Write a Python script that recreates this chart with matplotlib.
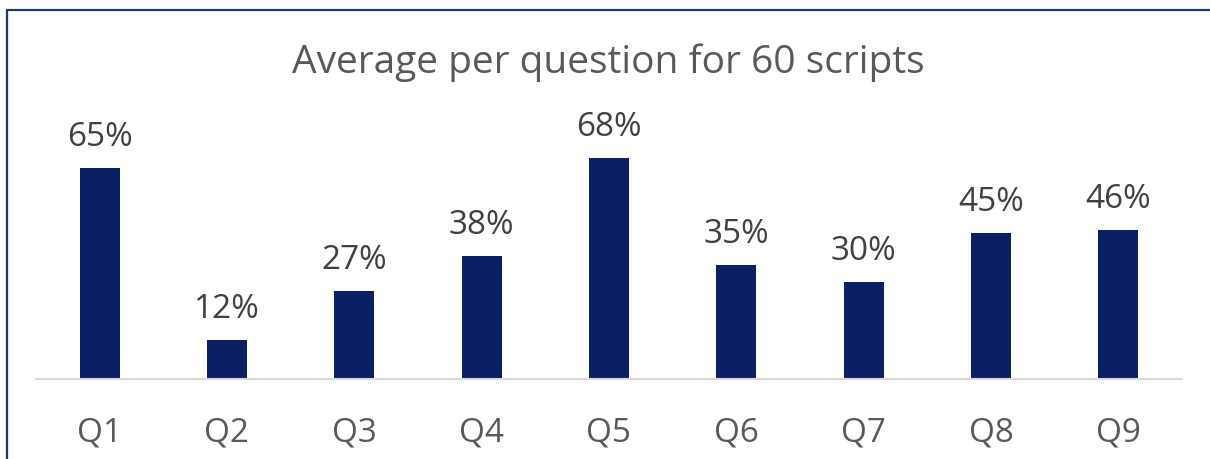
import matplotlib.pyplot as plt
from matplotlib.patches import Rectangle

preguntas = ['Q1', 'Q2', 'Q3', 'Q4', 'Q5', 'Q6', 'Q7', 'Q8', 'Q9']
promedios = [65, 12, 27, 38, 68, 35, 30, 45, 46]

plt.rcParams['font.family'] = ['Open Sans', 'DejaVu Sans']

fig = plt.figure(figsize=(12.1, 4.59), dpi=100)
ax = fig.add_axes([36 / 1210, 80 / 459, 1146 / 1210, 260 / 459])

x = range(len(preguntas))
barras = ax.bar(x, promedios, width=0.314, color='#0a1f66')
for b, v in zip(barras, promedios):
    ax.annotate(f'{v}%', (b.get_x() + b.get_width() / 2, v), xytext=(0, 10),
                textcoords='offset points', ha='center', va='bottom',
                fontsize=24, color='#404040')

ax.set_xlim(-0.5, len(preguntas) - 0.5)
ax.set_ylim(0, 80)
ax.set_xticks(list(x))
ax.set_xticklabels(preguntas, fontsize=24, color='#595959')
ax.tick_params(axis='x', length=0, pad=27)
ax.set_yticks([])
for lado in ['top', 'right', 'left']:
    ax.spines[lado].set_visible(False)
ax.spines['bottom'].set_color('#d9d9d9')
ax.spines['bottom'].set_linewidth(1.5)

fig.text(0.503, 1 - 63 / 459, 'Average per question for 60 scripts', ha='center', va='center',
         fontsize=28, color='#595959')

# marco del cuadro
fig.patches.append(Rectangle((6.5 / 1210, -0.1), 1.2, 1.1 - 10.5 / 459, transform=fig.transFigure,
                             fill=False, edgecolor='#1f3864', linewidth=1.6))

fig.savefig('out.png', dpi=100)
